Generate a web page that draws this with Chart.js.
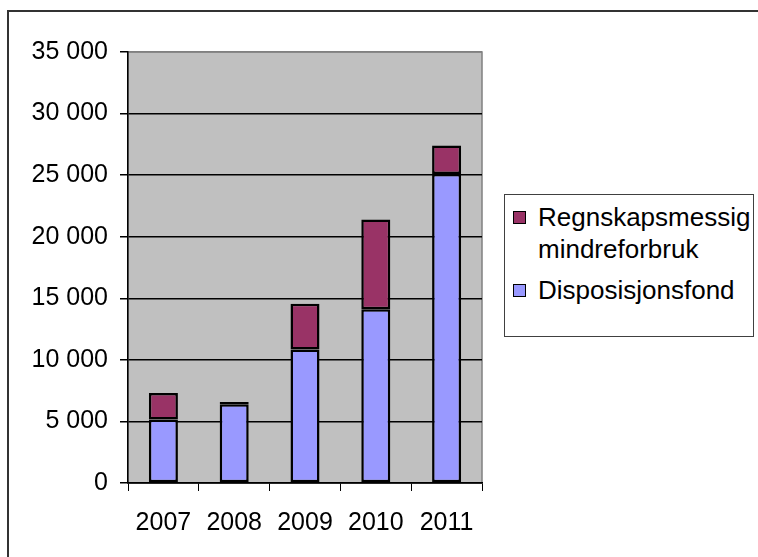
<!DOCTYPE html>
<html>
<head>
<meta charset="utf-8">
<script src="https://cdn.jsdelivr.net/npm/chart.js@4/dist/chart.umd.min.js"></script>
<style>
	body { margin: 0; background: #fff; font-family: "Liberation Sans", Arial, sans-serif; }
	#wrap { position: relative; width: 758px; height: 557px; overflow: hidden; }
	#frame { position: absolute; left: 7px; top: 10px; width: 800px; height: 600px; border-left: 2px solid #333; border-top: 2px solid #333; }
	#chartBox { position: absolute; left: 0; top: 0; width: 758px; height: 557px; }
	#legend { position: absolute; left: 504px; top: 194px; width: 250px; height: 143px; border: 1px solid #404040; box-sizing: border-box; padding: 6px 0 0 8px; background: #fff; }
	.legItem { display: flex; align-items: flex-start; margin-bottom: 9px; }
	.legSwatch { width: 11px; height: 11px; border: 1px solid #000; margin-top: 10px; flex: none; }
	.legText { margin-left: 12px; width: 215px; font-size: 26px; line-height: 32px; color: #000; }
</style>
</head>
<body>
<div id="wrap">
	<div id="frame"></div>
	<div id="chartBox"><canvas id="stackChart"></canvas></div>
	<div id="legend"></div>
</div>
<script>
	// 데이터
	var years = ["2007", "2008", "2009", "2010", "2011"];
	var disposisjonsfond = [5150, 6400, 10850, 14100, 25100];
	var mindreforbruk = [2150, 180, 3700, 7300, 2300];
	var seriesNames = ["Disposisjonsfond", "Regnskapsmessig mindreforbruk"];
	var seriesColors = ["#9999ff", "#993366"];

	function $id(id) {
		return document.getElementById(id);
	} // $id

	// 천 단위 공백
	function fmtThousand(v) {
		return String(v).replace(/\B(?=(\d{3})+(?!\d))/g, " ");
	} // fmtThousand

	// 플롯 영역 배경
	var plotBg = {
		id: "plotBg",
		beforeDraw: function(chart) {
			var a = chart.chartArea;
			var c = chart.ctx;
			c.save();
			c.fillStyle = "#c0c0c0";
			c.fillRect(a.left, a.top, a.right - a.left, a.bottom - a.top);
			c.strokeStyle = "#808080";
			c.lineWidth = 1.5;
			c.strokeRect(a.left, a.top, a.right - a.left, a.bottom - a.top);
			c.restore();
		}
	};

	var chart = new Chart($id("stackChart"), {
		type: "bar",
		data: {
			labels: years,
			datasets: [{
				label: seriesNames[0],
				data: disposisjonsfond,
				backgroundColor: seriesColors[0],
				borderColor: "#000",
				borderWidth: 2.5,
				borderSkipped: false,
				inflateAmount: 0
			}, {
				label: seriesNames[1],
				data: mindreforbruk,
				backgroundColor: seriesColors[1],
				borderColor: "#000",
				borderWidth: 2.5,
				borderSkipped: false,
				inflateAmount: 0
			}]
		},
		options: {
			responsive: true,
			maintainAspectRatio: false,
			animation: false,
			layout: {
				padding: { left: 0, right: 276, top: 52, bottom: 0 }
			},
			datasets: {
				bar: { categoryPercentage: 1, barPercentage: 0.41 }
			},
			plugins: {
				legend: { display: false },
				tooltip: { enabled: false }
			},
			scales: {
				x: {
					stacked: true,
					grid: { display: true, drawOnChartArea: false, drawTicks: true, tickLength: 8, color: "#000", offset: true },
					border: { display: true, color: "#000", width: 1.5 },
					ticks: { color: "#000", font: { family: "Liberation Sans", size: 25 }, padding: 17, maxRotation: 0 },
					afterFit: function(scale) { scale.height = 74; }
				},
				y: {
					stacked: true,
					min: 0,
					max: 35000,
					grid: {
						color: function(ctx) { return ctx.tick && ctx.tick.value === 35000 ? "#808080" : "#000"; },
						tickColor: "#000",
						tickLength: 8,
						lineWidth: 1.5
					},
					border: { display: true, color: "#000", width: 1.5 },
					ticks: {
						stepSize: 5000,
						color: "#000",
						font: { family: "Liberation Sans", size: 25 },
						padding: 12,
						callback: function(v) { return fmtThousand(v); }
					},
					afterFit: function(scale) { scale.width = 128; }
				}
			}
		},
		plugins: [plotBg]
	}); // end chart

	// 범례 (위쪽 계열 먼저)
	function buildLegend() {
		var box = $id("legend");
		for (var i = seriesNames.length - 1; i >= 0; i--) {
			var item = document.createElement("div");
			item.className = "legItem";
			var sw = document.createElement("div");
			sw.className = "legSwatch";
			sw.style.background = seriesColors[i];
			var tx = document.createElement("div");
			tx.className = "legText";
			tx.textContent = seriesNames[i];
			item.appendChild(sw);
			item.appendChild(tx);
			box.appendChild(item);
		} // end for
	} // buildLegend

	buildLegend();
</script>
</body>
</html>
